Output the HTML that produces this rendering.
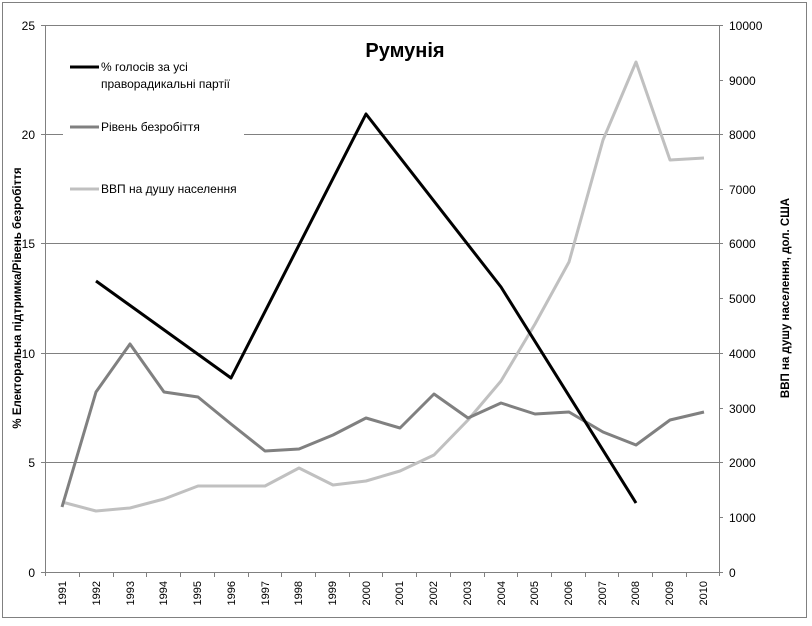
<!DOCTYPE html>
<html><head><meta charset="utf-8"><style>
html,body{margin:0;padding:0;background:#fff}
svg{display:block;font-family:"Liberation Sans","DejaVu Sans",sans-serif}
</style></head><body>
<svg width="812" height="626" viewBox="0 0 812 626" xmlns="http://www.w3.org/2000/svg">
<rect x="2.5" y="2.5" width="804" height="615" fill="#fff" stroke="#808080" stroke-width="1"/>
<g stroke="#808080" stroke-width="1">
<line x1="45" y1="25.5" x2="719" y2="25.5"/>
<line x1="45" y1="134.5" x2="63" y2="134.5"/>
<line x1="244" y1="134.5" x2="719" y2="134.5"/>
<line x1="45" y1="243.5" x2="719" y2="243.5"/>
<line x1="45" y1="353.5" x2="719" y2="353.5"/>
<line x1="45" y1="462.5" x2="719" y2="462.5"/>
<line x1="45.5" y1="25" x2="45.5" y2="576"/>
<line x1="719.5" y1="25" x2="719.5" y2="576"/>
<line x1="41" y1="572.5" x2="723" y2="572.5"/>
<line x1="41" y1="25.5" x2="45" y2="25.5"/><line x1="41" y1="134.5" x2="45" y2="134.5"/><line x1="41" y1="243.5" x2="45" y2="243.5"/><line x1="41" y1="353.5" x2="45" y2="353.5"/><line x1="41" y1="462.5" x2="45" y2="462.5"/>
<line x1="719" y1="80.5" x2="723" y2="80.5"/><line x1="719" y1="134.5" x2="723" y2="134.5"/><line x1="719" y1="189.5" x2="723" y2="189.5"/><line x1="719" y1="243.5" x2="723" y2="243.5"/><line x1="719" y1="298.5" x2="723" y2="298.5"/><line x1="719" y1="353.5" x2="723" y2="353.5"/><line x1="719" y1="408.5" x2="723" y2="408.5"/><line x1="719" y1="462.5" x2="723" y2="462.5"/><line x1="719" y1="517.5" x2="723" y2="517.5"/><line x1="719" y1="25.5" x2="723" y2="25.5"/>
<path d="M79.5 572v5M113.5 572v5M146.5 572v5M180.5 572v5M214.5 572v5M248.5 572v5M281.5 572v5M315.5 572v5M349.5 572v5M382.5 572v5M416.5 572v5M450.5 572v5M484.5 572v5M517.5 572v5M551.5 572v5M585.5 572v5M618.5 572v5M652.5 572v5M686.5 572v5"/>
</g>
<g font-size="12" fill="#000" text-anchor="end">
<text x="35" y="30">25</text><text x="35" y="139">20</text><text x="35" y="248">15</text><text x="35" y="358">10</text><text x="35" y="467">5</text><text x="35" y="577">0</text>
</g>
<g font-size="12" fill="#000">
<text x="729" y="30">10000</text><text x="729" y="85">9000</text><text x="729" y="139">8000</text><text x="729" y="194">7000</text><text x="729" y="248">6000</text><text x="729" y="303">5000</text><text x="729" y="358">4000</text><text x="729" y="413">3000</text><text x="729" y="467">2000</text><text x="729" y="522">1000</text><text x="729" y="577">0</text>
</g>
<g font-size="11" fill="#000" text-anchor="end">
<text transform="translate(66,581) rotate(-90)">1991</text>
<text transform="translate(100,581) rotate(-90)">1992</text>
<text transform="translate(134,581) rotate(-90)">1993</text>
<text transform="translate(167,581) rotate(-90)">1994</text>
<text transform="translate(201,581) rotate(-90)">1995</text>
<text transform="translate(235,581) rotate(-90)">1996</text>
<text transform="translate(269,581) rotate(-90)">1997</text>
<text transform="translate(302,581) rotate(-90)">1998</text>
<text transform="translate(336,581) rotate(-90)">1999</text>
<text transform="translate(370,581) rotate(-90)">2000</text>
<text transform="translate(403,581) rotate(-90)">2001</text>
<text transform="translate(437,581) rotate(-90)">2002</text>
<text transform="translate(471,581) rotate(-90)">2003</text>
<text transform="translate(505,581) rotate(-90)">2004</text>
<text transform="translate(538,581) rotate(-90)">2005</text>
<text transform="translate(572,581) rotate(-90)">2006</text>
<text transform="translate(606,581) rotate(-90)">2007</text>
<text transform="translate(639,581) rotate(-90)">2008</text>
<text transform="translate(673,581) rotate(-90)">2009</text>
<text transform="translate(707,581) rotate(-90)">2010</text>
</g>
<text transform="translate(21,298) rotate(-90)" font-size="11.5" font-weight="bold" text-anchor="middle">% Електоральна підтримка/Рівень безробіття</text>
<text transform="translate(789,298) rotate(-90)" font-size="11.5" font-weight="bold" text-anchor="middle">ВВП на душу населення, дол. США</text>
<text x="405" y="57" font-size="20" font-weight="bold" text-anchor="middle">Румунія</text>
<g fill="none" stroke-width="3" stroke-linejoin="round">
<polyline stroke="#c0c0c0" points="62,502 96,511 130,508 164,499 198,486 231,486 265,486 299,468 333,485 366,481 400,471 434,455 468,420 501,381 535,324 569,262 603,140 636,62 670,160 704,158"/>
<polyline stroke="#808080" points="62,507 96,392 130,344 164,392 198,397 231,424 265,451 299,449 333,435 366,418 400,428 434,394 468,418 501,403 535,414 569,412 603,432 636,445 670,420 704,412"/>
<polyline stroke="#000" points="96,281 231,378 366,114 501,287 636,503"/>
<line x1="70" y1="67" x2="99" y2="67" stroke="#000"/>
<line x1="70" y1="127" x2="99" y2="127" stroke="#808080"/>
<line x1="70" y1="189" x2="99" y2="189" stroke="#c0c0c0"/>
</g>
<g font-size="12" fill="#000">
<text x="101" y="71">% голосів за усі</text>
<text x="101" y="88">праворадикальні партії</text>
<text x="101" y="131">Рівень безробіття</text>
<text x="101" y="193">ВВП на душу населення</text>
</g>
</svg>
</body></html>
